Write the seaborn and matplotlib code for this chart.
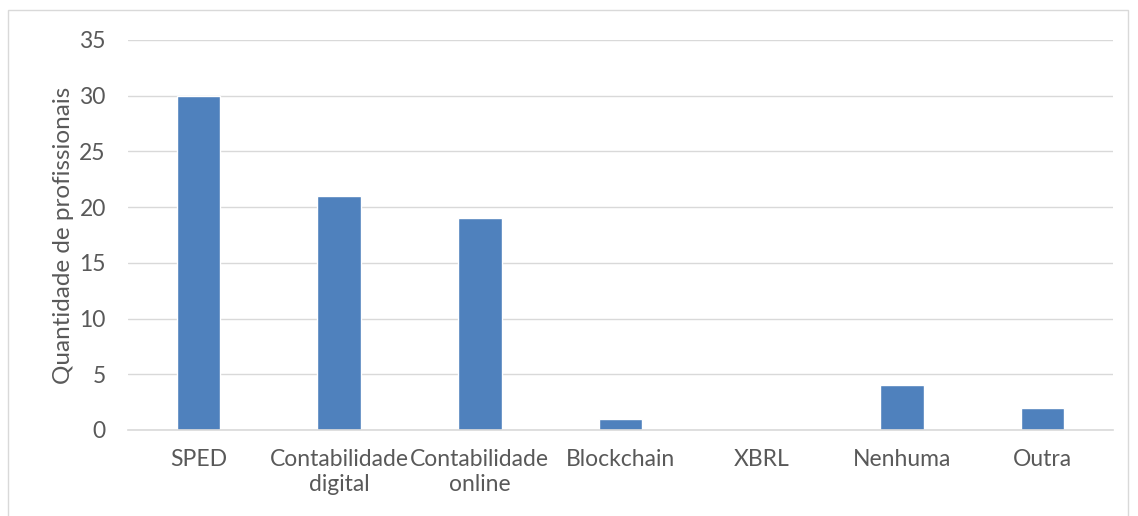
import matplotlib
matplotlib.use("Agg")
import matplotlib.pyplot as plt
import seaborn as sns
import pandas as pd
from matplotlib.patches import Rectangle

categories = ["SPED", "Contabilidade\ndigital", "Contabilidade\nonline", "Blockchain",
              "XBRL", "Nenhuma", "Outra"]
counts = [30, 21, 19, 1, 0, 4, 2]
y_ticks = [0, 5, 10, 15, 20, 25, 30, 35]

df = pd.DataFrame({"Categoria": categories, "Quantidade": counts})

sns.set_theme(style="white")
plt.rcParams['font.family'] = ['Lato', 'DejaVu Sans']

fig = plt.figure(figsize=(11.38, 5.16), dpi=100)
ax = fig.add_axes([128 / 1138, 1 - 430 / 516, (1113 - 128) / 1138, 390 / 516])

sns.barplot(data=df, x="Categoria", y="Quantidade", color="#4F81BD",
            width=0.31, saturation=1, ax=ax)

ax.set_ylim(0, 35)
ax.set_yticks(y_ticks)
ax.yaxis.grid(True, color="#D9D9D9", linewidth=1)
ax.set_axisbelow(True)
for side in ["top", "right", "left"]:
    ax.spines[side].set_visible(False)
ax.spines["bottom"].set_color("#D9D9D9")
ax.spines["bottom"].set_linewidth(1.2)
ax.tick_params(axis="both", length=0, labelsize=16.5, colors="#595959")
ax.tick_params(axis="x", pad=14)
ax.tick_params(axis="y", pad=16)
ax.set_xlabel("")
ax.set_ylabel("Quantidade de profissionais", fontsize=17.5, color="#595959", labelpad=4)

# outer chart border
fig.patches.append(Rectangle((8 / 1138, -0.05), 1120 / 1138, 1 - 10 / 516 + 0.05,
                             transform=fig.transFigure, fill=False,
                             edgecolor="#D9D9D9", linewidth=1))

fig.savefig("out.png", dpi=100)
